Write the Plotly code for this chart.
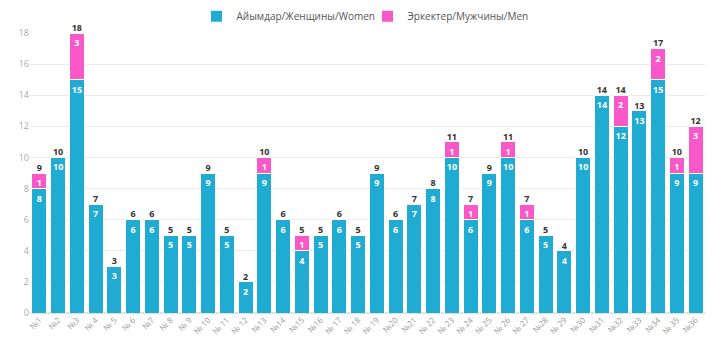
import plotly.graph_objects as go

categories = ["№1", "№2", "№3", "№ 4", "№ 5", "№ 6", "№7", "№ 8", "№ 9", "№ 10",
              "№ 11", "№ 12", "№13", "№14", "№15", "№16", "№ 17", "№ 18", "№ 19", "№20",
              "№21", "№ 22", "№ 23", "№ 24", "№ 25", "№ 26", "№ 27", "№28", "№ 29", "№30",
              "№31", "№32", "№33", "№34", "№ 35", "№36"]
women = [8, 10, 15, 7, 3, 6, 6, 5, 5, 9, 5, 2, 9, 6, 4, 5, 6, 5, 9, 6,
         7, 8, 10, 6, 9, 10, 6, 5, 4, 10, 14, 12, 13, 15, 9, 9]
men = [1, 0, 3, 0, 0, 0, 0, 0, 0, 0, 0, 0, 1, 0, 1, 0, 0, 0, 0, 0,
       0, 0, 1, 1, 0, 1, 1, 0, 0, 0, 0, 2, 0, 2, 1, 3]
totals = [w + m for w, m in zip(women, men)]

WOMEN_COLOR = "#1fabd2"
MEN_COLOR = "#f858c8"
FONT = "Open Sans"

fig = go.Figure()
fig.add_trace(go.Bar(
    x=categories, y=women, name="Айымдар/Женщины/Women",
    marker=dict(color=WOMEN_COLOR, line=dict(color="white", width=1)),
    text=[str(v) for v in women], textposition="inside", insidetextanchor="end",
    textfont=dict(color="white", size=9, family=FONT, weight="bold"),
    textangle=0, constraintext="none", hoverinfo="y+name",
))
fig.add_trace(go.Bar(
    x=categories, y=men, name="Эркектер/Мужчины/Men",
    marker=dict(color=MEN_COLOR, line=dict(color="white", width=1)),
    text=[str(v) if v else "" for v in men], textposition="inside", insidetextanchor="end",
    textfont=dict(color="white", size=9, family=FONT, weight="bold"),
    textangle=0, constraintext="none", hoverinfo="y+name",
))
# Stack totals above each column
fig.add_trace(go.Scatter(
    x=categories, y=totals, mode="text", text=[str(t) for t in totals],
    textposition="top center", showlegend=False, cliponaxis=False,
    textfont=dict(color="#333333", size=9, family=FONT, weight="bold"),
    hoverinfo="skip",
))

fig.update_layout(
    barmode="stack", bargap=0.2,
    width=720, height=346,
    margin=dict(l=30, r=15, t=33, b=33),
    paper_bgcolor="white", plot_bgcolor="white",
    font=dict(family=FONT, color="#999999"),
    legend=dict(orientation="h", x=0.5, xanchor="center", y=0.995, yanchor="top",
                yref="container", font=dict(size=10, color="#555555"),
                traceorder="normal", itemwidth=30,
                entrywidth=126, entrywidthmode="pixels"),
    xaxis=dict(range=[-0.5, len(categories) - 0.5], tickangle=-45,
               tickfont=dict(size=8, color="#999999"),
               showgrid=False, showline=False, ticks="", automargin=False),
    yaxis=dict(range=[0, 18], dtick=2, tickfont=dict(size=9, color="#aaaaaa"),
               gridcolor="#ebebeb", zeroline=True, zerolinecolor="#e0e0e0", ticks="",
               automargin=False),
)

fig.write_html("out.html")
